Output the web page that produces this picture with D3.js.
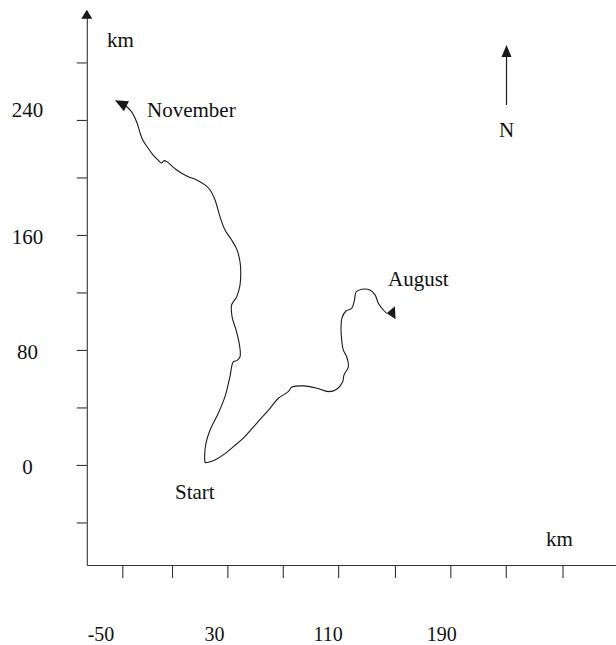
<!DOCTYPE html>
<html>
<head>
<meta charset="utf-8">
<script src="https://cdn.jsdelivr.net/npm/d3@7"></script>
<style>
  html, body { margin: 0; padding: 0; background: #fff; }
  svg { display: block; }
  text { font-family: "Liberation Serif", "Times New Roman", serif; fill: #111; }
</style>
</head>
<body>
<svg id="chart" width="616" height="645"></svg>
<script>
// ---- data (km) ----
// Track from Start heading north, ending in November
const northTrackX = [23.2, 23.0, 23.9, 26.8, 32.6, 37.3, 40.8, 43.2, 45.6, 47.9, 47.5, 45.1, 42.3, 42.0, 45.6, 47.9, 48.4, 47.9, 45.8, 42.0, 37.3, 33.8, 30.3, 26.8, 23.2, 17.4, 10.4, 3.3, -3.7, -5.6, -7.3, -9.9, -13.4, -16.9, -20.6, -22.5, -24.6, -27.5, -29.6, -32.4];
const northTrackY = [1.6, 7.0, 15.1, 24.3, 36.0, 47.5, 61.4, 71.9, 72.6, 75.3, 83.5, 93.9, 103.0, 111.3, 117.1, 125.2, 134.3, 141.2, 149.6, 156.5, 163.5, 172.7, 184.3, 191.3, 194.8, 198.3, 201.0, 205.2, 211.0, 211.7, 210.1, 212.2, 215.7, 220.5, 226.1, 231.0, 237.9, 244.2, 247.0, 249.7];
// Track from Start heading east, ending in August
const eastTrackX = [23.2, 25.6, 30.3, 36.1, 43.2, 50.2, 59.6, 69.0, 74.9, 81.9, 84.3, 92.5, 101.9, 110.1, 116.0, 120.2, 121.1, 124.2, 123.0, 120.6, 119.5, 119.0, 119.7, 122.5, 126.5, 128.5, 129.6, 133.6, 139.4, 143.0, 145.3, 148.8, 151.2];
const eastTrackY = [1.6, 1.9, 3.5, 7.0, 12.7, 18.6, 29.0, 39.4, 46.4, 51.0, 54.1, 55.0, 53.4, 51.0, 52.7, 57.9, 62.6, 68.4, 75.3, 80.0, 87.0, 93.9, 102.3, 107.1, 109.0, 114.8, 120.3, 122.2, 121.7, 118.3, 112.5, 107.8, 105.5];

const xTickValues = [-35, 0, 39, 78, 117, 157, 196, 235, 275];
const xLabelText = ["-50", "30", "110", "190"];
const xLabelValues = [-50, 30, 110, 190];
const yTickValues = [-40, 0, 40, 80, 120, 160, 200, 240, 280];
const yLabelText = ["240", "160", "80", "0"];
const yLabelValues = [247, 159, 79, -1];
const placeNames = ["Start", "August", "November"];

// ---- layout ----
const svg = d3.select("#chart");
const ink = "#1a1a1a";

const x = d3.scaleLinear().domain([-60, 313]).range([86.8, 616.5]);
const y = d3.scaleLinear().domain([-69.6, 316]).range([565, 10.7]);

// x axis
const xAxis = d3.axisBottom(x).tickValues(xTickValues).tickSize(13).tickSizeOuter(0).tickFormat("");
const gx = svg.append("g").attr("transform", `translate(0,${y(-69.6)})`).call(xAxis);
gx.selectAll("path, line").attr("stroke", "#333").attr("stroke-width", 1.1);

// y axis
const yAxis = d3.axisLeft(y).tickValues(yTickValues).tickSize(10).tickSizeOuter(0).tickFormat("");
const gy = svg.append("g").attr("transform", `translate(${x(-60)},0)`).call(yAxis);
gy.selectAll("path, line").attr("stroke", "#333").attr("stroke-width", 1.1);

// y axis arrow
const ax = x(-60), ay = y(316);
svg.append("path")
  .attr("d", `M${ax},${ay - 1} L${ax - 5.5},${ay + 8} L${ax + 5.5},${ay + 8} Z`)
  .attr("fill", ink);

// tick labels
svg.append("g").selectAll("text").data(xLabelValues).join("text")
  .attr("x", d => x(d)).attr("y", 641)
  .attr("text-anchor", "middle").attr("font-size", 20)
  .text((d, i) => xLabelText[i]);

svg.append("g").selectAll("text").data(yLabelValues).join("text")
  .attr("x", 27.5).attr("y", d => y(d))
  .attr("dy", "0.35em")
  .attr("text-anchor", "middle").attr("font-size", 21)
  .text((d, i) => yLabelText[i]);

// unit labels
svg.append("text").attr("x", 107).attr("y", 47).attr("font-size", 21).text("km");
svg.append("text").attr("x", 546).attr("y", 546).attr("font-size", 21).text("km");

// tracks
const line = d3.line().x(d => x(d[0])).y(d => y(d[1])).curve(d3.curveCatmullRom.alpha(0.5));
const north = northTrackX.map((v, i) => [v, northTrackY[i]]);
const east = eastTrackX.map((v, i) => [v, eastTrackY[i]]);
[north, east].forEach(track => {
  svg.append("path").datum(track).attr("d", line)
    .attr("fill", "none").attr("stroke", ink).attr("stroke-width", 1.1);
});

// arrowheads: anchored on the last point of each track
function arrowHead(pt, angle, tip, base, w) {
  svg.append("path")
    .attr("d", `M${tip},0 L${base},${-w / 2} L${base},${w / 2} Z`)
    .attr("transform", `translate(${x(pt[0])},${y(pt[1])}) rotate(${angle})`)
    .attr("fill", ink);
}
arrowHead(north[north.length - 1], -153, 12.5, -0.5, 11);
arrowHead(east[east.length - 1], -3, 0, 8.5, 13);

// place names
svg.append("text").attr("x", 175).attr("y", 499).attr("font-size", 21).text(placeNames[0]);
svg.append("text").attr("x", 388).attr("y", 286).attr("font-size", 21).text(placeNames[1]);
svg.append("text").attr("x", 147).attr("y", 117).attr("font-size", 21).text(placeNames[2]);

// north arrow
const nx = 506.5;
svg.append("line").attr("x1", nx).attr("x2", nx).attr("y1", 105).attr("y2", 55)
  .attr("stroke", ink).attr("stroke-width", 1.2);
svg.append("path").attr("d", `M${nx},45 L${nx - 5},57 L${nx + 5},57 Z`).attr("fill", ink);
svg.append("text").attr("x", nx).attr("y", 137).attr("text-anchor", "middle").attr("font-size", 21).text("N");
</script>
</body>
</html>
